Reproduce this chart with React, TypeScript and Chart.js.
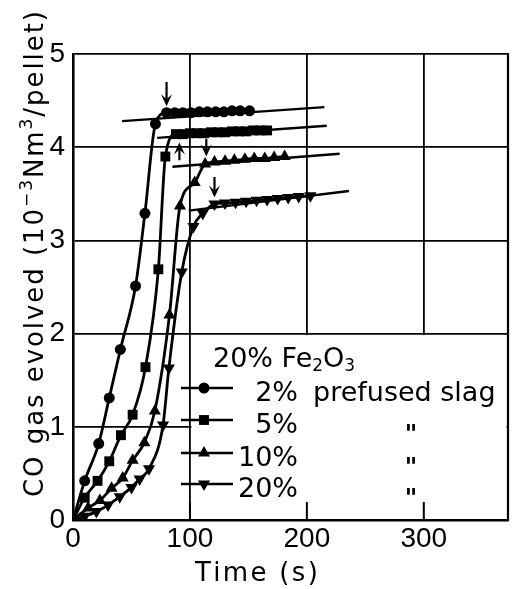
import React, { useEffect, useRef } from 'react';
import { Chart, registerables } from 'chart.js';

Chart.register(...registerables);

const WIDTH = 515;
const HEIGHT = 589;

// CO gas evolved (10^-3 Nm3/pellet) against time (s), 20% Fe2O3 pellets
const tSlag2 = [0, 10, 22, 31, 40.5, 53.5, 61.5, 70.5, 80, 87, 94, 101, 108, 115, 122, 129, 136, 143, 151];
const coSlag2 = [0, 0.42, 0.82, 1.31, 1.83, 2.51, 3.29, 4.25, 4.37, 4.37, 4.37, 4.37, 4.38, 4.38, 4.38, 4.38, 4.39, 4.39, 4.39];

const tSlag5 = [0, 10, 21, 31, 41, 51, 62, 73, 79, 88, 94, 100, 106, 112, 118, 124, 130, 136, 142, 148, 154, 160, 166];
const coSlag5 = [0, 0.24, 0.42, 0.63, 0.91, 1.13, 1.64, 2.69, 3.9, 4.14, 4.14, 4.15, 4.15, 4.15, 4.16, 4.16, 4.16, 4.17, 4.17, 4.17, 4.18, 4.18, 4.18];

const tSlag10 = [0, 13, 23, 33, 42.5, 51, 61, 70, 82.5, 91.5, 104, 113, 121, 130, 138, 147, 155, 164, 172, 181];
const coSlag10 = [0, 0.13, 0.21, 0.34, 0.45, 0.64, 0.83, 1.17, 2.2, 3.37, 3.62, 3.82, 3.84, 3.85, 3.86, 3.87, 3.88, 3.88, 3.89, 3.9];

const tSlag20 = [0, 10, 20, 30, 40, 50, 57, 65, 77, 82, 93, 103, 111, 121, 130, 139, 148, 157, 166, 175, 184, 193, 203];
const coSlag20 = [0, 0.04, 0.09, 0.16, 0.25, 0.35, 0.44, 0.55, 1.02, 1.63, 2.66, 3.15, 3.29, 3.39, 3.4, 3.41, 3.42, 3.43, 3.44, 3.45, 3.46, 3.47, 3.48];

// straight lines through the final stage of each run (end points)
const fitT2 = [42, 215];
const fitCO2 = [4.28, 4.43];
const fitT5 = [72, 217];
const fitCO5 = [4.1, 4.23];
const fitT10 = [85, 228];
const fitCO10 = [3.79, 3.93];
const fitT20 = [99, 236];
const fitCO20 = [3.32, 3.53];

// arrows marking where each run reaches its final stage
const arrowT = [80, 91, 114, 121];
const arrowFromCO = [4.7, 3.86, 4.09, 3.68];
const arrowToCO = [4.44, 4.05, 3.9, 3.46];

const slagLabels = ['2%', '5%', '10%', '20%'];
const xTicks = [0, 100, 200, 300];
const yTicks = [0, 1, 2, 3, 4, 5];

const markerStyle = ['circle', 'rect', 'triangle', 'triangle'];
const markerRotation = [0, 0, 0, 180];
const markerRadius = [5.5, 7, 7, 7];

const TICK_FONT = '"Liberation Sans", Arial, sans-serif';
const TEXT_FONT = '"DejaVu Sans", Verdana, sans-serif';

function pts(t: number[], v: number[]) {
  return t.map((x, i) => ({ x, y: v[i] }));
}

function drawMarker(ctx: CanvasRenderingContext2D, k: number, x: number, y: number) {
  const r = markerRadius[k];
  ctx.beginPath();
  if (markerStyle[k] === 'circle') {
    ctx.arc(x, y, r, 0, Math.PI * 2);
  } else if (markerStyle[k] === 'rect') {
    const s = r * Math.SQRT1_2;
    ctx.rect(x - s, y - s, 2 * s, 2 * s);
  } else {
    let a = (markerRotation[k] * Math.PI) / 180;
    for (let i = 0; i < 3; i++) {
      const px = x + Math.sin(a) * r;
      const py = y - Math.cos(a) * r;
      if (i === 0) ctx.moveTo(px, py);
      else ctx.lineTo(px, py);
      a += (2 * Math.PI) / 3;
    }
    ctx.closePath();
  }
  ctx.fill();
}

// draws text pieces along a run, spread to a given length
function drawRun(
  ctx: CanvasRenderingContext2D,
  pieces: { text: string; size: number; dy: number }[],
  length: number,
  weight = 'normal'
) {
  let natural = 0;
  let chars = 0;
  for (const p of pieces) {
    ctx.font = `${weight} ${p.size}px ${TEXT_FONT}`;
    natural += ctx.measureText(p.text).width;
    chars += [...p.text].length;
  }
  const spacing = Math.max(0, (length - natural) / Math.max(1, chars - 1));
  let cx = 0;
  for (const p of pieces) {
    ctx.font = `${weight} ${p.size}px ${TEXT_FONT}`;
    for (const ch of p.text) {
      ctx.fillText(ch, cx, p.dy);
      cx += ctx.measureText(ch).width + spacing;
    }
  }
}

const figurePlugin = {
  id: 'figureExtras',
  beforeDatasetsDraw(chart: any) {
    const { ctx, chartArea: a, scales } = chart;
    const xs = scales.x;
    const ys = scales.y;
    ctx.save();
    // blank panel for the key, below CO = 2 and right of t = 100
    const x0 = xs.getPixelForValue(100) + 1.5;
    const y0 = ys.getPixelForValue(2) + 1.5;
    ctx.fillStyle = '#fff';
    ctx.fillRect(x0, y0, a.right - 1.5 - x0, a.bottom - 1.5 - y0);
    // short ticks on the time axis inside the panel
    ctx.strokeStyle = '#000';
    ctx.lineWidth = 2;
    for (const v of xTicks.slice(1)) {
      const px = xs.getPixelForValue(v);
      ctx.beginPath();
      ctx.moveTo(px, a.bottom);
      ctx.lineTo(px, a.bottom - 18);
      ctx.stroke();
    }
    // right frame
    ctx.lineWidth = 2.2;
    ctx.beginPath();
    ctx.moveTo(a.right, a.top - 1);
    ctx.lineTo(a.right, a.bottom + 1);
    ctx.stroke();

    // key
    ctx.fillStyle = '#000';
    ctx.textBaseline = 'alphabetic';
    ctx.textAlign = 'left';
    const hx = 213;
    const hy = 367;
    const head: [string, number, number][] = [
      ['20% Fe', 27, 0],
      ['2', 17, 4],
      ['O', 27, 0],
      ['3', 17, 4],
    ];
    let cx = hx;
    for (const [s, size, dy] of head) {
      ctx.font = `${size}px ${TEXT_FONT}`;
      ctx.fillText(s, cx, hy + dy);
      cx += ctx.measureText(s).width;
    }
    const baselines = [401, 433, 466, 497];
    slagLabels.forEach((lab, k) => {
      const by = baselines[k];
      const ly = by - 13;
      ctx.lineWidth = 2.6;
      ctx.beginPath();
      ctx.moveTo(181, ly);
      ctx.lineTo(233, ly);
      ctx.stroke();
      drawMarker(ctx, k, 204, ly);
      ctx.font = `27px ${TEXT_FONT}`;
      ctx.textAlign = 'right';
      ctx.fillText(lab, 298, by);
      ctx.textAlign = 'left';
      if (k === 0) {
        ctx.fillText('prefused slag', 313, by);
      } else {
        ctx.font = `bold 24px ${TEXT_FONT}`;
        ctx.textAlign = 'center';
        ctx.fillText('"', 411, by + 9);
        ctx.textAlign = 'left';
      }
    });
    ctx.restore();
  },
  afterDatasetsDraw(chart: any) {
    const { ctx, scales } = chart;
    const xs = scales.x;
    const ys = scales.y;
    ctx.save();
    ctx.strokeStyle = '#000';
    ctx.fillStyle = '#000';
    ctx.lineWidth = 2.2;
    arrowT.forEach((t, i) => {
      const px = xs.getPixelForValue(t);
      const pFrom = ys.getPixelForValue(arrowFromCO[i]);
      const pTo = ys.getPixelForValue(arrowToCO[i]);
      const dir = Math.sign(pTo - pFrom);
      ctx.beginPath();
      ctx.moveTo(px, pFrom);
      ctx.lineTo(px, pTo - dir * 6);
      ctx.stroke();
      ctx.beginPath();
      ctx.moveTo(px, pTo);
      ctx.lineTo(px - 5.5, pTo - dir * 12);
      ctx.lineTo(px, pTo - dir * 7);
      ctx.lineTo(px + 5.5, pTo - dir * 12);
      ctx.closePath();
      ctx.fill();
    });
    ctx.restore();
  },
  afterDraw(chart: any) {
    const { ctx } = chart;
    ctx.save();
    ctx.fillStyle = '#000';
    ctx.textBaseline = 'alphabetic';
    ctx.textAlign = 'left';
    // time axis title
    ctx.save();
    ctx.translate(195, 581);
    drawRun(ctx, [{ text: 'Time (s)', size: 26, dy: 0 }], 122);
    ctx.restore();
    // CO axis title, reading upward
    ctx.save();
    ctx.translate(43, 497);
    ctx.rotate(-Math.PI / 2);
    drawRun(
      ctx,
      [
        { text: 'CO gas evolved (10', size: 26, dy: 0 },
        { text: '−3', size: 17, dy: -11 },
        { text: 'Nm', size: 26, dy: 0 },
        { text: '3', size: 17, dy: -11 },
        { text: '/pellet)', size: 26, dy: 0 },
      ],
      486
    );
    ctx.restore();
    ctx.restore();
  },
};

function runDataset(t: number[], v: number[], k: number) {
  return {
    label: slagLabels[k],
    data: pts(t, v),
    borderColor: '#000',
    backgroundColor: '#000',
    borderWidth: 2.8,
    pointStyle: markerStyle[k],
    pointRotation: markerRotation[k],
    pointRadius: (c: any) => (c.dataIndex === 0 ? 0 : markerRadius[k]),
    pointBackgroundColor: '#000',
    pointBorderColor: '#000',
    pointBorderWidth: 0,
    cubicInterpolationMode: 'monotone' as const,
    order: 1,
  };
}

function fitDataset(t: number[], v: number[]) {
  return {
    label: 'fit',
    data: pts(t, v),
    borderColor: '#000',
    borderWidth: 2.4,
    pointRadius: 0,
    tension: 0,
    order: 2,
  };
}

export default function App() {
  const ref = useRef<HTMLCanvasElement>(null);

  useEffect(() => {
    document.body.style.margin = '0';
    const canvas = ref.current;
    if (!canvas) return;
    const chart = new Chart(canvas, {
      type: 'line',
      data: {
        datasets: [
          fitDataset(fitT2, fitCO2),
          fitDataset(fitT5, fitCO5),
          fitDataset(fitT10, fitCO10),
          fitDataset(fitT20, fitCO20),
          runDataset(tSlag2, coSlag2, 0),
          runDataset(tSlag5, coSlag5, 1),
          runDataset(tSlag10, coSlag10, 2),
          runDataset(tSlag20, coSlag20, 3),
        ] as any,
      },
      options: {
        responsive: false,
        animation: false,
        devicePixelRatio: 1,
        layout: { padding: { top: 54, right: 2, left: 0, bottom: 0 } },
        plugins: {
          legend: { display: false },
          tooltip: { enabled: false },
        },
        scales: {
          x: {
            type: 'linear',
            min: 0,
            max: 372,
            afterBuildTicks: (s: any) => {
              s.ticks = xTicks.map((value) => ({ value }));
            },
            afterFit: (s: any) => {
              s.height = 69;
            },
            grid: { color: '#000', lineWidth: 1.8, drawTicks: false },
            border: { color: '#000', width: 2.6 },
            ticks: {
              color: '#000',
              font: { family: TICK_FONT, size: 28 },
              padding: 2,
              maxRotation: 0,
              autoSkip: false,
            },
          },
          y: {
            type: 'linear',
            min: 0,
            max: 5,
            afterBuildTicks: (s: any) => {
              s.ticks = yTicks.map((value) => ({ value }));
            },
            afterFit: (s: any) => {
              s.width = 73;
            },
            grid: { color: '#000', lineWidth: 1.8, drawTicks: false },
            border: { color: '#000', width: 2.6 },
            ticks: {
              color: '#000',
              font: { family: TICK_FONT, size: 28 },
              padding: 8,
              autoSkip: false,
            },
          },
        },
      },
      plugins: [figurePlugin],
    });
    return () => chart.destroy();
  }, []);

  return (
    <div style={{ width: WIDTH, height: HEIGHT, background: '#fff' }}>
      <canvas
        ref={ref}
        width={WIDTH}
        height={HEIGHT}
        style={{ display: 'block', width: WIDTH, height: HEIGHT }}
      />
    </div>
  );
}
